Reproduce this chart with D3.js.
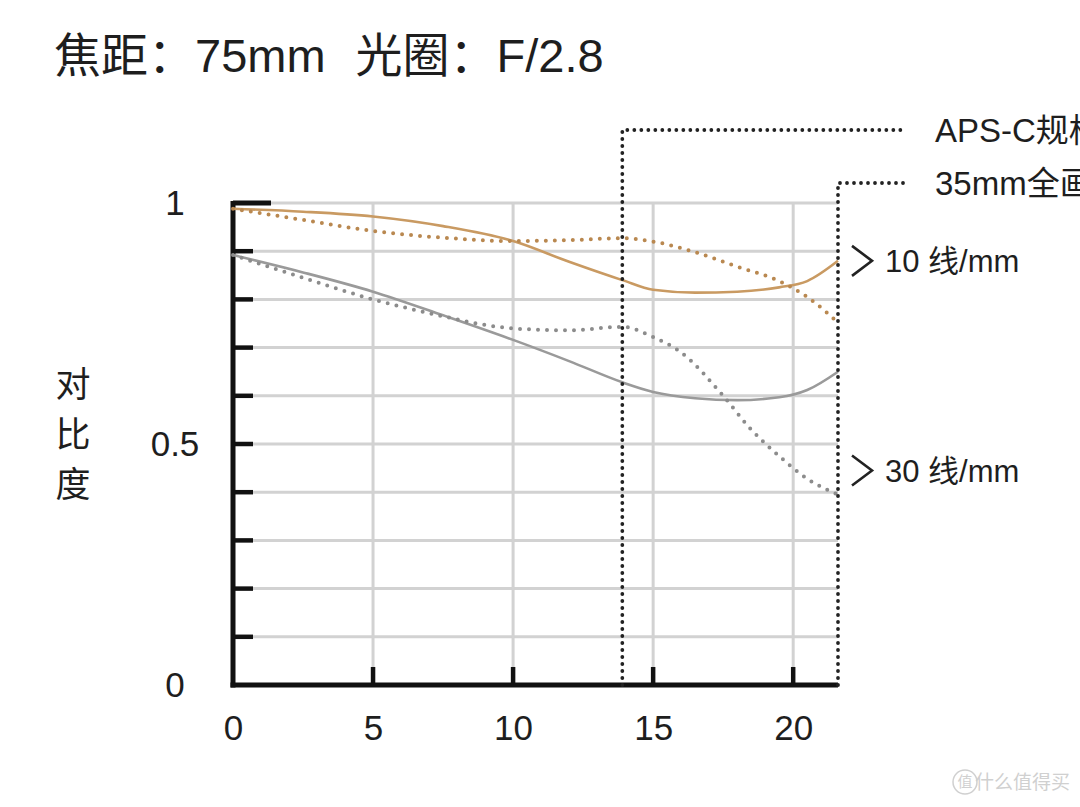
<!DOCTYPE html>
<html>
<head>
<meta charset="utf-8">
<script src="https://cdn.jsdelivr.net/npm/d3@7"></script>
<style>
  html, body { margin: 0; padding: 0; background: #fff; overflow: hidden; }
  svg { display: block; font-family: "Liberation Sans", "Noto Sans CJK SC", Arial, sans-serif; }
</style>
</head>
<body>
<svg id="chart" width="1080" height="807"></svg>
<script>
// ---- data ----
const titleParts = ["焦距：75mm", "光圈：F/2.8"];
const yLabelChars = ["对", "比", "度"];
const xTicks = [0, 5, 10, 15, 20];
const yTickLabels = [{v: 1, t: "1"}, {v: 0.5, t: "0.5"}, {v: 0, t: "0"}];
const yMinorTicks = [0.1, 0.2, 0.3, 0.4, 0.5, 0.6, 0.7, 0.8, 0.9];
const apscEdge = 13.9;
const fullEdge = 21.6;

// image height (mm) positions sampled
const x10Solid = [0, 2.5, 5, 7.5, 10, 12, 13.9, 15, 16.5, 18, 19.5, 20.5, 21.6];
const y10Solid = [0.988, 0.982, 0.972, 0.952, 0.921, 0.878, 0.84, 0.82, 0.814, 0.816, 0.825, 0.838, 0.88];
const x10Dot = [0, 2.5, 5, 7.5, 10, 12, 13.9, 15, 16.5, 18, 19.5, 20.5, 21.6];
const y10Dot = [0.988, 0.965, 0.942, 0.928, 0.921, 0.923, 0.927, 0.92, 0.898, 0.868, 0.838, 0.805, 0.752];
const x30Solid = [0, 2.5, 5, 7.5, 10, 12, 13.9, 15, 16.5, 18, 19.5, 20.5, 21.6];
const y30Solid = [0.892, 0.856, 0.816, 0.767, 0.716, 0.672, 0.628, 0.608, 0.595, 0.591, 0.597, 0.612, 0.65];
const x30Dot = [0, 2.5, 5, 7.5, 9, 10.5, 12, 13.9, 15, 16, 17.5, 18.5, 19.5, 20.5, 21.6];
const y30Dot = [0.892, 0.845, 0.80, 0.765, 0.747, 0.738, 0.736, 0.743, 0.722, 0.69, 0.60, 0.53, 0.475, 0.428, 0.395];

const seriesLabels = [{v: 0.88, t: "10 线/mm"}, {v: 0.445, t: "30 线/mm"}];
const sensorLabels = [{x: apscEdge, yPx: 130, t: "APS-C规格"}, {x: fullEdge, yPx: 183, t: "35mm全画幅"}];

// ---- layout ----
const svg = d3.select("#chart");
const x = d3.scaleLinear().domain([0, 21.6]).range([233, 838]);
const y = d3.scaleLinear().domain([0, 1]).range([685, 203]);
const orange = "#c99a62";
const grayLine = "#9a9a9a";
const gridC = "#d2d2d2";
const ink = "#1e1e1e";

// title
const title = svg.append("text").attr("x", 54).attr("y", 72).attr("font-size", 47).attr("fill", ink);
title.append("tspan").text(titleParts[0]);
title.append("tspan").attr("dx", 30).text(titleParts[1]);

// grid
const grid = svg.append("g");
grid.selectAll("line.h").data(d3.range(1, 11).map(d => d / 10)).join("line")
  .attr("x1", x(0)).attr("x2", x(21.6)).attr("y1", d => y(d)).attr("y2", d => y(d))
  .attr("stroke", gridC).attr("stroke-width", 3);
grid.selectAll("line.v").data(xTicks.filter(d => d > 0)).join("line")
  .attr("x1", d => x(d)).attr("x2", d => x(d)).attr("y1", y(1)).attr("y2", y(0))
  .attr("stroke", gridC).attr("stroke-width", 3);

// tick labels via axes
const xAxis = d3.axisBottom(x).tickValues(xTicks).tickSize(0).tickPadding(30).tickFormat(d3.format("d"));
const gx = svg.append("g").attr("transform", `translate(0,${y(0)})`).call(xAxis);
gx.select(".domain").remove();
gx.selectAll("text").attr("font-size", 35).attr("fill", ink).attr("font-family", "Liberation Sans, Arial, sans-serif").attr("dy", "0.71em");

const yAxis = d3.axisLeft(y).tickValues(yTickLabels.map(d => d.v)).tickSize(0).tickPadding(0)
  .tickFormat(v => yTickLabels.find(d => d.v === v).t);
const gy = svg.append("g").attr("transform", `translate(175,0)`).call(yAxis);
gy.select(".domain").remove();
gy.selectAll("text").attr("font-size", 35).attr("fill", ink).attr("text-anchor", "middle").attr("font-family", "Liberation Sans, Arial, sans-serif");

// black axis lines and ticks
const ax = svg.append("g");
ax.append("line").attr("x1", x(0)).attr("x2", x(0)).attr("y1", y(1) - 2).attr("y2", y(0) + 2.5)
  .attr("stroke", "#111").attr("stroke-width", 5);
ax.append("line").attr("x1", x(0) - 2.5).attr("x2", x(21.6)).attr("y1", y(0)).attr("y2", y(0))
  .attr("stroke", "#111").attr("stroke-width", 5);
ax.append("line").attr("x1", x(0)).attr("x2", x(0) + 38).attr("y1", y(1)).attr("y2", y(1))
  .attr("stroke", "#111").attr("stroke-width", 5);
ax.selectAll("line.ym").data(yMinorTicks).join("line")
  .attr("x1", x(0)).attr("x2", x(0) + 20).attr("y1", d => y(d)).attr("y2", d => y(d))
  .attr("stroke", "#111").attr("stroke-width", 4.5);
ax.selectAll("line.xm").data(xTicks.filter(d => d > 0)).join("line")
  .attr("x1", d => x(d)).attr("x2", d => x(d)).attr("y1", y(0)).attr("y2", y(0) - 18)
  .attr("stroke", "#111").attr("stroke-width", 4.5);

// y label
svg.append("g").selectAll("text").data(yLabelChars).join("text")
  .attr("x", 73).attr("y", (d, i) => 384 + i * 50).attr("dy", "0.36em")
  .attr("text-anchor", "middle").attr("font-size", 35).attr("fill", ink).text(d => d);

// curves
const line = d3.line().curve(d3.curveMonotoneX);
function drawSeries(xs, ys, color, dotted) {
  const p = svg.append("path").datum(xs.map((v, i) => [x(v), y(ys[i])]))
    .attr("d", line).attr("fill", "none").attr("stroke", color);
  if (dotted) {
    p.attr("stroke-width", 4).attr("stroke-dasharray", "0 9").attr("stroke-linecap", "round");
  } else {
    p.attr("stroke-width", 2.6);
  }
}
drawSeries(x30Solid, y30Solid, grayLine, false);
drawSeries(x30Dot, y30Dot, "#8c8c8c", true);
drawSeries(x10Solid, y10Solid, orange, false);
drawSeries(x10Dot, y10Dot, "#b98850", true);

// sensor boundary dotted lines
const sens = svg.append("g");
sensorLabels.forEach(s => {
  sens.append("path")
    .attr("d", `M${x(s.x)},${y(0)} L${x(s.x)},${s.yPx} L${907},${s.yPx}`)
    .attr("fill", "none").attr("stroke", "#222").attr("stroke-width", 3.8)
    .attr("stroke-dasharray", "0 7").attr("stroke-linecap", "round");
  sens.append("text").attr("x", 935).attr("y", s.yPx).attr("dy", "0.36em")
    .attr("font-size", 33).attr("fill", ink).text(s.t);
});

// series labels with chevrons
const sl = svg.append("g");
seriesLabels.forEach(s => {
  const cy = y(s.v);
  sl.append("path").attr("d", `M852,${cy - 15} L872,${cy} L852,${cy + 15}`)
    .attr("fill", "none").attr("stroke", "#222").attr("stroke-width", 2.6);
  sl.append("text").attr("x", 885).attr("y", cy).attr("dy", "0.36em")
    .attr("font-size", 31).attr("fill", ink).text(s.t);
});

// watermark
const wm = svg.append("g").attr("fill", "#d0d0d0");
wm.append("circle").attr("cx", 965).attr("cy", 782).attr("r", 12)
  .attr("fill", "none").attr("stroke", "#d0d0d0").attr("stroke-width", 1.5);
wm.append("text").attr("x", 965).attr("y", 782).attr("dy", "0.36em").attr("text-anchor", "middle")
  .attr("font-size", 15).text("值");
wm.append("text").attr("x", 1070).attr("y", 782).attr("dy", "0.36em").attr("text-anchor", "end")
  .attr("font-size", 19).text("什么值得买");
</script>
</body>
</html>
